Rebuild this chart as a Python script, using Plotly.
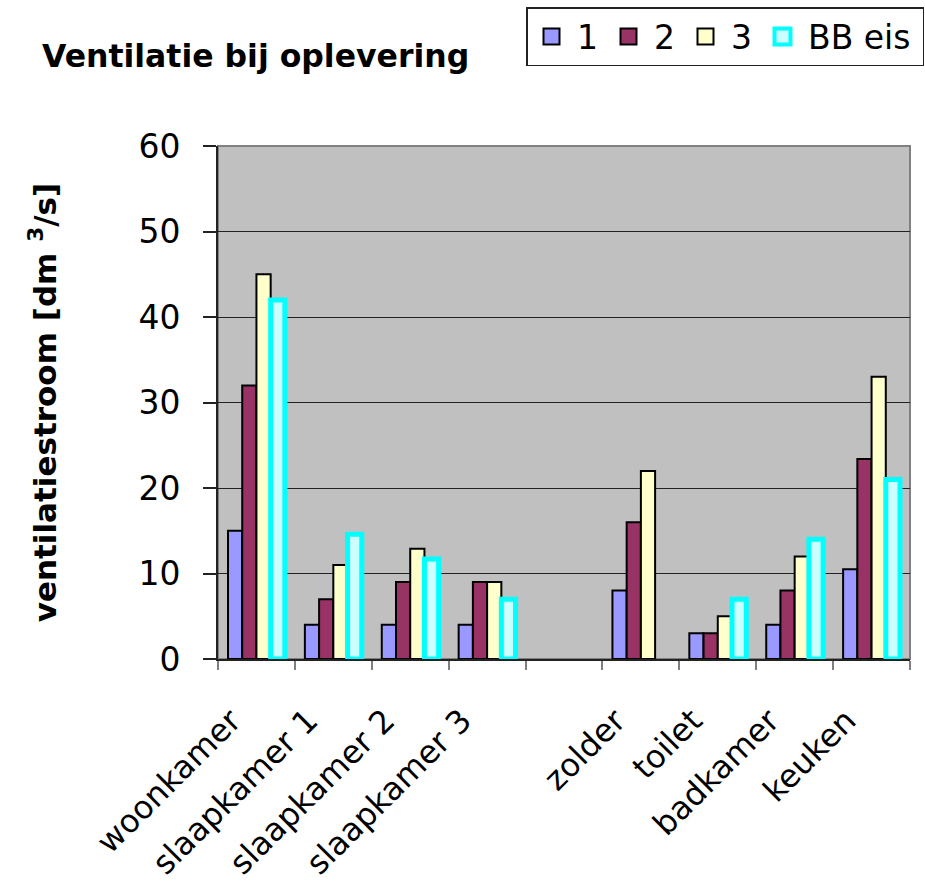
import plotly.graph_objects as go

# Rooms (blank slot separates the bedrooms from the service rooms)
rooms = ["woonkamer", "slaapkamer 1", "slaapkamer 2", "slaapkamer 3", " ",
         "zolder", "toilet", "badkamer", "keuken"]

# Measured ventilation flow per dwelling [dm3/s]
woning_1 = [15, 4, 4, 4, None, 8, 3, 4, 10.5]
woning_2 = [32, 7, 9, 9, None, 16, 3, 8, 23.4]
woning_3 = [45, 11, 12.9, 9, None, 22, 5, 12, 33]
# Building code requirement
bb_eis = [42, 14.6, 11.7, 7, None, None, 7, 14, 21]

series_names = ["1", "2", "3", "BB eis"]
legend_labels = ["1", "2", "3", "BB eis\u2009"]
fill_colors = ["#9999FF", "#993366", "#FFFFCC", "#CCFFFF"]
edge_colors = ["#000000", "#000000", "#000000", "#00FFFF"]
edge_widths = [2, 2, 2, 5]

FONT = "DejaVu Sans, Liberation Sans, Arial, sans-serif"

fig = go.Figure()
for name, label, vals, fc, ec, ew in zip(series_names, legend_labels,
                                         [woning_1, woning_2, woning_3, bb_eis],
                                         fill_colors, edge_colors, edge_widths):
    fig.add_trace(go.Bar(
        x=rooms, y=vals, name=name, showlegend=False, legendgroup=name,
        marker=dict(color=fc, line=dict(color=ec, width=ew)),
    ))
    # legend swatch
    fig.add_trace(go.Scatter(
        x=[None], y=[None], mode="markers", name=label, legendgroup=name,
        marker=dict(symbol="square", size=16, color=fc,
                    line=dict(color=ec, width=2 if ew < 4 else 4)),
    ))

# plot-area frame (top/right in grey)
fig.add_shape(type="rect", xref="x domain", yref="y domain",
              x0=0, x1=1, y0=0, y1=1, line=dict(color="#808080", width=2),
              layer="below")

fig.update_layout(
    width=925, height=884,
    margin=dict(l=218, r=15, t=146, b=225, pad=0, autoexpand=False),
    paper_bgcolor="white", plot_bgcolor="#C0C0C0",
    font=dict(family=FONT, color="black", size=32),
    barmode="group", bargap=0.26, bargroupgap=0,
    title=dict(text="<b>Ventilatie bij oplevering</b>",
               font=dict(family=FONT, size=31.5, color="black"),
               x=42 / 925, xanchor="left", xref="container",
               y=1 - 56 / 884, yanchor="middle", yref="container"),
    legend=dict(orientation="h", xref="container", yref="container",
                x=924 / 925, xanchor="right", y=1 - 7 / 884,
                yanchor="top", bgcolor="white", bordercolor="#222222",
                borderwidth=1.5, font=dict(family=FONT, size=33),
                itemsizing="trace", itemwidth=41),
    xaxis=dict(type="category", categoryorder="array", categoryarray=rooms,
               tickson="boundaries", ticks="outside", ticklen=9,
               tickcolor="#808080", tickwidth=1.5,
               showline=True, linecolor="#222222", linewidth=2,
               showgrid=False, tickangle=-45, ticklabelstandoff=28,
               ticklabelshift=-25, automargin=False,
               tickfont=dict(family=FONT, size=32)),
    yaxis=dict(range=[0, 60], dtick=10, ticks="outside", ticklen=13,
               tickcolor="#222222", tickwidth=1.5,
               showline=True, linecolor="#222222", linewidth=2,
               showgrid=True, gridcolor="#222222", gridwidth=1.2,
               zeroline=False, ticklabelstandoff=16, automargin=False,
               tickfont=dict(family=FONT, size=33),
               title=dict(text="<b>ventilatiestroom [dm <sup>3</sup>/s]</b>",
                          font=dict(family=FONT, size=31), standoff=73)),
)

fig.write_html("out.html")
